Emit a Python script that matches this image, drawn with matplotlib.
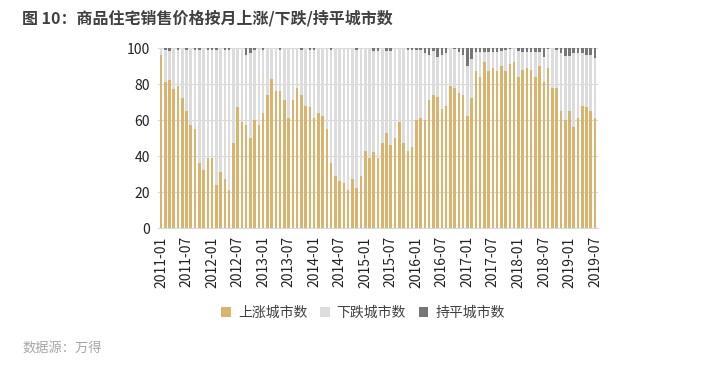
import matplotlib
matplotlib.use("Agg")
import matplotlib.pyplot as plt
import numpy as np

plt.rcParams['font.family'] = ['Noto Sans CJK SC', 'DejaVu Sans']

# 2011-01 .. 2019-07, 月度
up = [96, 81, 82, 77, 79, 72, 65, 57, 55, 36, 32, 39,
      39, 24, 31, 27, 21, 47, 67, 59, 57, 50, 60, 57,
      64, 74, 83, 76, 76, 71, 61, 71, 78, 74, 68, 67,
      61, 64, 62, 55, 36, 29, 26, 25, 21, 27, 22, 29,
      43, 39, 42, 39, 47, 53, 46, 50, 59, 47, 43, 45,
      60, 61, 60, 71, 74, 73, 66, 68, 79, 78, 75, 74,
      62, 72, 87, 84, 92, 87, 89, 87, 90, 87, 91, 92,
      84, 88, 89, 88, 84, 90, 81, 89, 78, 78, 65, 60,
      65, 56, 61, 68, 67, 65, 61]
flat = [0, 1, 1.5, 0, 1, 0, 1, 0, 1, 1, 0, 1,
        1, 1, 0, 1, 1, 0, 0, 0, 4, 3, 1, 0,
        1, 0, 0, 0, 1, 0, 0, 0, 0, 1, 0, 1,
        1, 0, 0, 0, 1, 0, 0, 0, 0, 0, 1, 0,
        0, 0, 1.5, 1.5, 0, 1.5, 1.5, 0, 0, 0, 1, 1,
        1, 1, 3, 4, 1.5, 5, 4, 3, 0, 0.5, 2, 4,
        10, 6, 2, 2, 2, 2, 2, 2, 1.5, 1, 0.5, 0,
        1.5, 2, 2, 2, 2, 2, 5, 0.5, 0, 1, 3, 4.5,
        4.5, 3, 2.5, 3, 4, 4, 5.5]
down = [100 - u - f for u, f in zip(up, flat)]

tick_labels = ['2011-01', '2011-07', '2012-01', '2012-07', '2013-01', '2013-07',
               '2014-01', '2014-07', '2015-01', '2015-07', '2016-01', '2016-07',
               '2017-01', '2017-07', '2018-01', '2018-07', '2019-01', '2019-07']

c_up = '#DAB46E'
c_down = '#DCDCDC'
c_flat = '#767676'

fig = plt.figure(figsize=(7.21, 3.73), dpi=100)
ax = fig.add_axes([158 / 721, 1 - 228 / 373, 440 / 721, 180 / 373])

x = np.arange(len(up))
w = 0.6
up_arr = np.array(up)
down_arr = np.array(down)
ax.bar(x, up, w, color=c_up, label='上涨城市数', zorder=2)
ax.bar(x, down, w, bottom=up_arr, color=c_down, label='下跌城市数', zorder=2)
ax.bar(x, flat, w, bottom=up_arr + down_arr, color=c_flat, label='持平城市数', zorder=2)

ax.set_xlim(-0.7, len(up) - 0.3)
ax.set_ylim(0, 100)
ax.set_yticks(range(0, 101, 20))
ax.yaxis.grid(True, color='#D9D9D9', linewidth=0.8, zorder=0)
ax.set_xticks(np.arange(0, len(up), 6))
ax.set_xticklabels(tick_labels, rotation=90, fontsize=10, color='#222222')
ax.tick_params(axis='y', labelsize=10, colors='#222222', length=0, pad=6)
ax.tick_params(axis='x', length=0, pad=6)
for s in ['top', 'right', 'left']:
    ax.spines[s].set_visible(False)
ax.spines['bottom'].set_color('#D9D9D9')

fig.legend(loc='center', bbox_to_anchor=(363 / 721, 1 - 313 / 373), ncol=3,
           frameon=False, fontsize=10, handlelength=0.7, handleheight=0.7,
           columnspacing=0.9, handletextpad=0.5, labelcolor='#404040')

fig.text(22 / 721, 1 - 18 / 373, '图 10：商品住宅销售价格按月上涨/下跌/持平城市数',
         fontsize=11.5, fontweight='bold', color='#404040', va='center')
fig.text(22 / 721, 1 - 348 / 373, '数据源：万得', fontsize=9.5, color='#A6A6A6',
         style='italic', va='center')

fig.savefig('out.png', dpi=100)
